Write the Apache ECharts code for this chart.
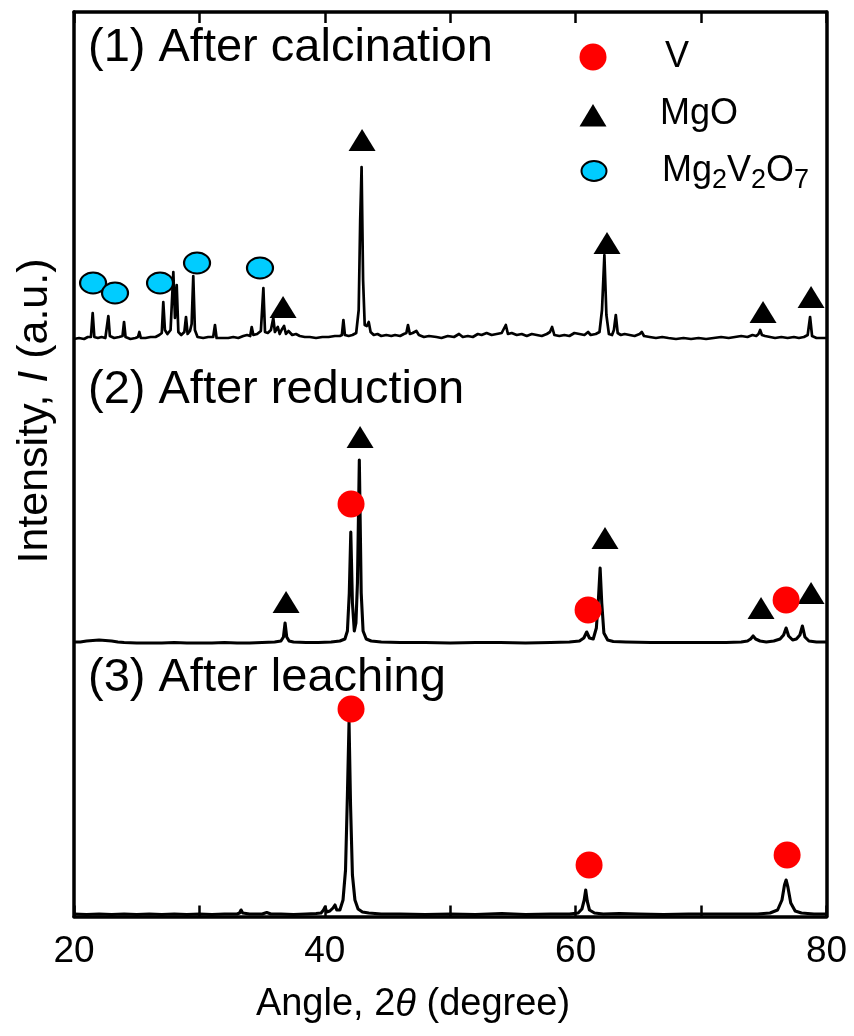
<!DOCTYPE html>
<html>
<head>
<meta charset="utf-8">
<script src="https://cdn.jsdelivr.net/npm/echarts@6.0.0/dist/echarts.min.js"></script>
<style>
  html, body { margin: 0; padding: 0; background: #fff; }
  #chart { width: 854px; height: 1036px; }
</style>
</head>
<body>
<div id="chart"></div>
<script>
// ---------- DATA ----------
const xTicks = [20, 30, 40, 50, 60, 70, 80];
const xTickLabels = [20, 40, 60, 80];
const sampleTitles = ['(1) After calcination', '(2) After reduction', '(3) After leaching'];
const offsets = [576.5, 273.5, 1.5];   // vertical stacking offsets (a.u.)

// (1) After calcination : [2θ, intensity above its baseline]
const calcination = [
  [20.0,1],[20.4,2],[20.8,1],[21.1,3],[21.35,3],[21.49,27],[21.62,3],[21.9,2],[22.2,3],[22.5,2],[22.62,4],[22.74,24],[22.86,4],
  [23.2,2],[23.6,3],[23.87,4],[23.99,18],[24.11,3],[24.5,1],[24.9,2],[25.1,3],[25.21,8],[25.33,2],[25.7,2],[26.1,3],[26.5,3],
  [26.8,5],[27.0,7],[27.12,38],[27.25,10],[27.45,6],[27.7,10],[27.92,68],[28.05,22],[28.19,55],[28.32,8],[28.55,5],[28.8,8],
  [28.93,23],[29.06,6],[29.25,9],[29.38,16],[29.51,64],[29.64,10],[29.85,3],[30.3,2],[30.7,3],[31.1,3],[31.24,15],[31.37,2],
  [31.8,2],[32.3,2],[32.7,3],[33.1,2],[33.5,4],[33.8,5],[34.05,4],[34.17,13],[34.3,5],[34.6,6],[34.9,9],[35.1,52],[35.23,8],
  [35.45,7],[35.7,10],[35.89,22],[36.02,8],[36.25,13],[36.4,6],[36.55,10],[36.75,14],[36.9,6],[37.1,9],[37.4,5],[37.7,6],
  [38.0,4],[38.4,3],[38.8,3],[39.3,2],[39.8,3],[40.3,3],[40.8,4],[41.2,4],[41.36,5],[41.48,20],[41.6,5],[41.9,4],[42.2,5],
  [42.5,7],[42.7,30],[42.82,120],[42.93,173],[43.05,60],[43.18,15],[43.35,14],[43.5,18],[43.65,8],[43.9,5],[44.2,6],[44.5,4],
  [44.9,5],[45.3,4],[45.6,5],[46.0,4],[46.3,6],[46.5,7],[46.63,15],[46.78,6],[47.0,7],[47.3,9],[47.5,5],[47.9,3],[48.3,4],
  [48.9,3],[49.3,2],[49.8,4],[50.3,3],[50.7,6],[51.0,3],[51.4,4],[51.8,3],[52.2,6],[52.5,5],[52.9,7],[53.3,5],[53.7,6],
  [54.1,7],[54.43,15],[54.6,6],[54.9,7],[55.3,5],[55.7,6],[56.1,4],[56.5,6],[56.9,5],[57.3,4],[57.7,6],[57.95,8],[58.12,13],
  [58.3,5],[58.7,4],[59.1,5],[59.5,4],[59.9,7],[60.3,6],[60.7,5],[60.99,8],[61.2,5],[61.6,6],[61.9,8],[62.1,30],[62.29,85],
  [62.45,25],[62.65,6],[62.9,5],[63.05,10],[63.2,25],[63.35,7],[63.6,5],[63.9,6],[64.3,5],[64.7,4],[65.1,6],[65.27,8],[65.45,4],
  [65.9,3],[66.4,2],[66.9,3],[67.4,2],[68.0,1],[68.6,2],[69.2,1],[69.8,2],[70.4,1],[71.0,2],[71.6,3],[72.2,2],[72.7,3],
  [73.2,4],[73.7,3],[74.1,5],[74.4,4],[74.58,6],[74.71,10],[74.85,5],[75.1,4],[75.5,3],[75.9,2],[76.4,3],[76.9,2],[77.4,3],
  [77.8,2],[78.2,3],[78.5,5],[78.69,23],[78.85,4],[79.2,2],[79.6,2],[80.0,2]
];

// (2) After reduction
const reduction = [
  [20.0,1],[20.5,1],[21.0,2],[21.5,2.5],[22.0,3],[22.5,2.5],[23.0,2],[23.5,1],[24,0.5],[25,0],[26,0],[27,0],[28,0.5],[29,0],
  [30,0],[31,0],[32,0.5],[33,0],[34,0],[35,0.5],[36,1],[36.5,2],[36.7,6],[36.83,20],[36.96,6],[37.15,2],[37.5,1],[38.5,0.5],
  [39.5,0.5],[40.5,1],[41.2,2],[41.6,4],[41.8,12],[41.95,50],[42.07,111],[42.2,40],[42.35,12],[42.48,20],[42.6,60],[42.75,183],
  [42.9,50],[43.05,12],[43.3,4],[43.7,2],[44.5,1],[46,0.5],[48,0.5],[50,0],[52,0.5],[54,0.5],[56,0],[58,0.5],[59.5,1],[60.3,2],
  [60.65,5],[60.88,11],[61.1,5],[61.4,4],[61.65,15],[61.82,45],[61.95,75],[62.08,40],[62.25,10],[62.55,3],[63,1.5],[64,1],
  [66,0.5],[68,0.5],[70,0.5],[72,0.5],[73.2,1],[73.7,2],[73.95,4],[74.15,7],[74.35,4],[74.7,2],[75.2,1],[75.8,2],[76.3,4],
  [76.58,8],[76.78,15],[76.98,7],[77.3,3],[77.6,4],[77.88,8],[78.08,17],[78.28,6],[78.6,2],[79.2,1],[80,1]
];

// (3) After leaching
const leaching = [
  [20,1],[21,0.5],[22,1],[23,0.5],[24,1],[25,0.5],[26,1],[27,0.5],[28,1],[29,0.5],[30,1],[31,0.5],[32,1],[33,1],[33.2,2],
  [33.32,5],[33.45,2],[34,1],[35,1],[35.37,2.5],[35.7,1],[36.5,1],[37.5,0.5],[38.5,1],[39.3,1.5],[39.7,2],[39.9,5],[40.02,8],
  [40.15,3],[40.4,4],[40.65,7],[40.81,10],[40.95,5],[41.2,5],[41.45,15],[41.65,45],[41.8,120],[41.93,193],[42.05,110],[42.2,40],
  [42.4,15],[42.65,6],[43,3],[43.5,2],[44.5,1],[46,1],[48,0.5],[50,1],[52,0.5],[54.1,1.5],[56,0.5],[58,1],[59.5,1],[60.2,2],
  [60.5,6],[60.68,15],[60.8,25],[60.92,14],[61.1,5],[61.5,2],[62.2,1],[63.5,1.5],[65,1],[67,0.5],[69,1],[71,1],[73,1],
  [74.5,1],[75.5,2],[76.1,5],[76.45,15],[76.65,30],[76.78,35],[76.92,28],[77.15,12],[77.5,4],[78,2],[79,1],[80,1]
];

// Phase markers: [2θ, intensity (a.u., absolute)]
const markV = [[42.09,412.5],[60.99,306.5],[76.78,316.5],[42.09,207.5],[61.07,51.5],[76.86,61.5]];
const markMgO = [[36.67,609.5],[42.97,776.5],[62.50,673.5],[74.94,604.5],[78.77,619.5],
                 [36.91,314.5],[42.81,479.5],[62.34,378.5],[74.78,308.5],[78.77,323.5]];
const markMg2V2O7 = [[21.52,633.5],[23.27,623.5],[26.86,633.5],[29.81,653.5],[34.83,648.5]];

// ---------- CHART ----------
const FONT = "'Liberation Sans', Arial, Helvetica, sans-serif";
const patterns = [calcination, reduction, leaching];

const lineSeries = patterns.map((p, i) => ({
  type: 'line',
  name: sampleTitles[i],
  data: p.map(d => [d[0], d[1] + offsets[i]]),
  showSymbol: false,
  symbol: 'none',
  smooth: false,
  lineStyle: { color: '#000', width: i === 0 ? 2.7 : 3.1, join: 'round' },
  z: 2,
  silent: true
}));

const axisX = (pos, showLabel) => ({
  type: 'value', min: 20, max: 80, interval: 10, position: pos,
  axisLine: { show: true, onZero: false, lineStyle: { color: '#000', width: 3.5 } },
  axisTick: { show: true, inside: true, length: 11, lineStyle: { color: '#000', width: 2.5 } },
  axisLabel: {
    show: showLabel, margin: 17, fontSize: 37, color: '#000', fontFamily: FONT,
    formatter: v => (xTickLabels.indexOf(v) >= 0 ? String(v) : '')
  },
  splitLine: { show: false }
});
const axisY = (pos) => ({
  type: 'value', min: 0, max: 904.5, position: pos,
  axisLine: { show: true, onZero: false, lineStyle: { color: '#000', width: 3.5 } },
  axisTick: { show: false }, axisLabel: { show: false }, splitLine: { show: false }
});

const titleY = [48, 390, 678];
const graphics = sampleTitles.map((t, i) => ({
  type: 'text', x: 88, y: titleY[i],
  style: { text: t, fill: '#000', font: '47px ' + FONT, verticalAlign: 'middle', align: 'left' }
}));

// legend
graphics.push(
  { type: 'circle', shape: { cx: 593, cy: 57, r: 13.5 }, style: { fill: '#ff0000' } },
  { type: 'polygon', shape: { points: [[593, 104], [579.5, 126.5], [606.5, 126.5]] }, style: { fill: '#000' } },
  { type: 'ellipse', shape: { cx: 594, cy: 171, rx: 12.5, ry: 10 }, style: { fill: '#00ccff', stroke: '#000', lineWidth: 2 } },
  { type: 'text', x: 665, y: 57, style: { text: 'V', fill: '#000', font: '36px ' + FONT, verticalAlign: 'middle' } },
  { type: 'text', x: 660, y: 114, style: { text: 'MgO', fill: '#000', font: '36px ' + FONT, verticalAlign: 'middle' } },
  { type: 'text', x: 662, y: 148, style: {
      text: '{m|Mg}{s|2}{m|V}{s|2}{m|O}{s|7}', fill: '#000', verticalAlign: 'top',
      rich: {
        m: { fontSize: 36, fontFamily: FONT, lineHeight: 46, verticalAlign: 'middle', fill: '#000' },
        s: { fontSize: 27, fontFamily: FONT, lineHeight: 26, verticalAlign: 'bottom', fill: '#000' }
      }
  } }
);

// axis names
graphics.push(
  { type: 'text', x: 413, y: 1005, style: {
      text: '{n|Angle, 2}{i|θ}{n| (degree)}', align: 'center', verticalAlign: 'middle',
      rich: {
        n: { fontSize: 38, fontFamily: FONT, fill: '#000' },
        i: { fontSize: 38, fontFamily: FONT, fontStyle: 'italic', fill: '#000' }
      }
  } },
  { type: 'text', x: 35, y: 411, rotation: Math.PI / 2, style: {
      text: '{n|Intensity, }{i|I}{n| (a.u.)}', align: 'center', verticalAlign: 'middle',
      rich: {
        n: { fontSize: 43, fontFamily: FONT, fill: '#000' },
        i: { fontSize: 43, fontFamily: FONT, fontStyle: 'italic', fill: '#000' }
      }
  } }
);

const option = {
  animation: false,
  backgroundColor: '#fff',
  grid: { left: 74, right: 27.5, top: 12, bottom: 119.5, containLabel: false },
  xAxis: [axisX('bottom', true), axisX('top', false)],
  yAxis: [axisY('left'), axisY('right')],
  series: lineSeries.concat([
    { type: 'scatter', name: 'Mg2V2O7', data: markMg2V2O7, symbol: 'circle', symbolSize: [26, 21],
      itemStyle: { color: '#00ccff', borderColor: '#000', borderWidth: 2, opacity: 1 }, z: 5, silent: true },
    { type: 'scatter', name: 'MgO', data: markMgO, symbol: 'triangle', symbolSize: [27, 22],
      itemStyle: { color: '#000', opacity: 1 }, z: 5, silent: true },
    { type: 'scatter', name: 'V', data: markV, symbol: 'circle', symbolSize: 27,
      itemStyle: { color: '#ff0000', opacity: 1 }, z: 5, silent: true }
  ]),
  graphic: graphics
};

const chart = echarts.init(document.getElementById('chart'), null, { renderer: 'canvas' });
chart.setOption(option);
</script>
</body>
</html>
